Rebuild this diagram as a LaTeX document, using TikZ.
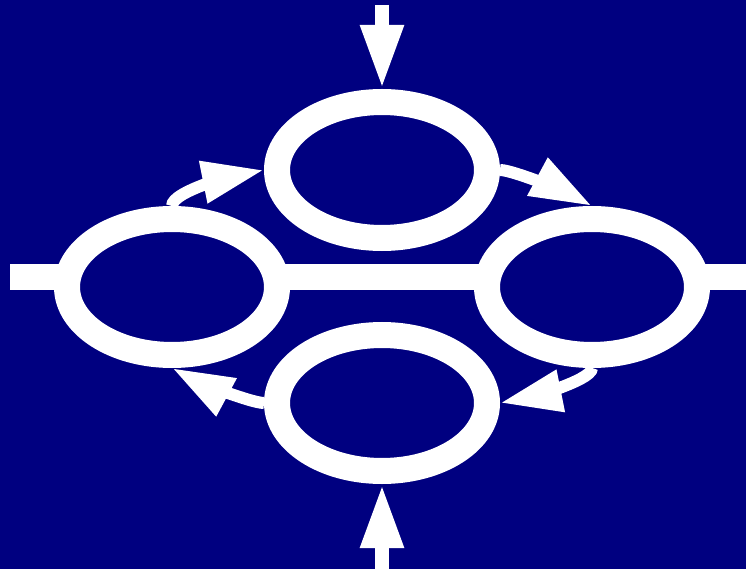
\documentclass[tikz,border=0pt]{standalone}
\usepackage{xcolor}
\usepackage{tikz}
\usetikzlibrary{positioning,calc,shapes.geometric,arrows.meta}

\definecolor{deepnavy}{RGB}{0,0,128}

\begin{document}
\begin{tikzpicture}[
x=1pt, y=-1pt,
ring/.style={ellipse, draw=white, line width=26pt, fill=deepnavy, minimum width=210pt, minimum height=136pt, inner sep=0pt, outer sep=13pt},
bus/.style={draw=white, line width=26pt},
feed/.style={white, line width=14pt, -{Triangle[length=64pt, width=40pt]}},
swirl/.style={white, line width=12pt, -{Triangle[length=62pt, width=40pt]}}
]

% --- BACKGROUND ---
\useasboundingbox (0,0) rectangle (746,569);
\fill[deepnavy] (0,0) rectangle (746,569);

% --- THROUGH LINE ---
\coordinate (busin) at (10,277);
\coordinate (busout) at (746,277);
\draw[bus] (busin) -- (busout);

% --- RINGS ---
\node[ring] (ringW) at (172,287) {};
\node[ring, right=184pt of ringW] (ringE) {};
\node[ring] (ringN) at ($(ringW)!.5!(ringE) + (0,-117)$) {};
\node[ring] (ringS) at ($(ringW)!.5!(ringE) + (0,116)$) {};

% --- FEEDS ---
\coordinate (feedN) at (382,5);
\coordinate (feedS) at (382,569);
\draw[feed] (feedN) -- (ringN.north);
\draw[feed] (feedS) -- (ringS.south);

% --- CIRCULATION ---
\draw[swirl] (ringW.north) .. controls +(0,-16) and +(-20,4) .. (ringN.west);
\draw[swirl] (ringN.east) .. controls +(15,0) and +(-13,-7) .. (ringE.north);
\draw[swirl] (ringE.south) .. controls +(0,14) and +(15,-3) .. (ringS.east);
\draw[swirl] (ringS.west) .. controls +(-15,0) and +(13,7) .. (ringW.south);

\end{tikzpicture}
\end{document}
